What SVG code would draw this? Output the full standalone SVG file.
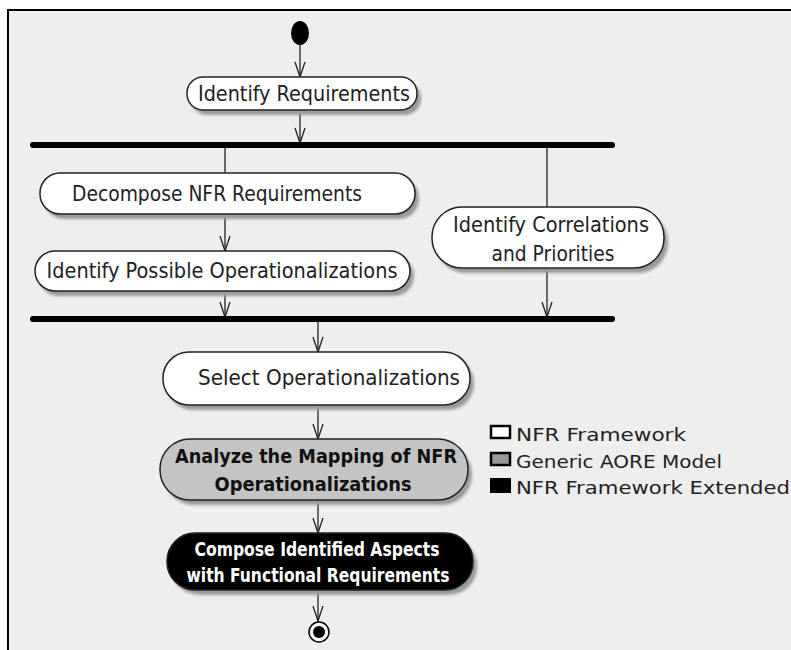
<svg xmlns="http://www.w3.org/2000/svg" width="791" height="650" viewBox="0 0 791 650">
<defs>
<style>
.node{stroke:#222;stroke-width:1.5}
.w{fill:#fff}
.g{fill:#c4c4c4}
.b{fill:#000}
.sh{fill:#9a9a9a;filter:url(#blur)}
.t{font-family:"DejaVu Sans Condensed","DejaVu Sans",sans-serif;font-size:21px;fill:#222;text-anchor:middle}
.tb{font-family:"DejaVu Sans Condensed","DejaVu Sans",sans-serif;font-size:19px;font-weight:bold;text-anchor:middle}
.lg{font-family:"DejaVu Sans",sans-serif;font-size:18px;fill:#222}
.c{stroke:#222;stroke-width:1.3;fill:none}
.bar{fill:#000}
</style>
<filter id="blur" x="-10%" y="-30%" width="120%" height="160%"><feGaussianBlur stdDeviation="1.5"/></filter>
<marker id="v" markerWidth="18" markerHeight="14" refX="16" refY="7" orient="auto" markerUnits="userSpaceOnUse" viewBox="0 0 18 14">
<path d="M1 2 L16 7 L1 12" fill="none" stroke="#222" stroke-width="1.3"/>
</marker>
</defs>
<rect x="0" y="0" width="791" height="650" fill="#fff"/>
<rect x="8" y="10" width="790" height="650" fill="#eeeeee" stroke="#000" stroke-width="2"/>

<g id="connectors">
<line class="c" x1="300" y1="45" x2="300" y2="77" marker-end="url(#v)"/>
<line class="c" x1="300" y1="110" x2="300" y2="143" marker-end="url(#v)"/>
<line class="c" x1="225" y1="148" x2="225" y2="173"/>
<line class="c" x1="547" y1="148" x2="547" y2="207"/>
<line class="c" x1="225" y1="214" x2="225" y2="251" marker-end="url(#v)"/>
<line class="c" x1="225" y1="291" x2="225" y2="317" marker-end="url(#v)"/>
<line class="c" x1="547" y1="268" x2="547" y2="317" marker-end="url(#v)"/>
<line class="c" x1="318" y1="322" x2="318" y2="352" marker-end="url(#v)"/>
<line class="c" x1="318" y1="405" x2="318" y2="439" marker-end="url(#v)"/>
<line class="c" x1="318" y1="500" x2="318" y2="533" marker-end="url(#v)"/>
<line class="c" x1="318" y1="590" x2="318" y2="621" marker-end="url(#v)"/>
</g>

<g id="start"><ellipse cx="300" cy="33" rx="9" ry="12" fill="#000"/></g>

<g id="identify-requirements">
<rect class="sh" x="191" y="82" width="230" height="33" rx="16"/>
<rect class="node w" x="187" y="77" width="230" height="33" rx="16"/>
<text class="t" x="304" y="101" textLength="212" lengthAdjust="spacingAndGlyphs">Identify Requirements</text>
</g>

<g id="fork"><rect class="bar" x="30" y="142" width="585" height="6" rx="3"/></g>

<g id="decompose">
<rect class="sh" x="44" y="178" width="375" height="41" rx="20"/>
<rect class="node w" x="40" y="173" width="375" height="41" rx="20"/>
<text class="t" x="217" y="201" textLength="290" lengthAdjust="spacingAndGlyphs">Decompose NFR Requirements</text>
</g>

<g id="identify-possible">
<rect class="sh" x="39" y="256" width="375" height="40" rx="20"/>
<rect class="node w" x="35" y="251" width="375" height="40" rx="20"/>
<text class="t" x="222" y="278" textLength="351" lengthAdjust="spacingAndGlyphs">Identify Possible Operationalizations</text>
</g>

<g id="correlations">
<rect class="sh" x="436" y="212" width="232" height="61" rx="30"/>
<rect class="node w" x="432" y="207" width="232" height="61" rx="30"/>
<text class="t" x="551" y="232" textLength="196" lengthAdjust="spacingAndGlyphs">Identify Correlations</text>
<text class="t" x="553" y="261" textLength="123" lengthAdjust="spacingAndGlyphs">and Priorities</text>
</g>

<g id="join"><rect class="bar" x="30" y="316" width="585" height="6" rx="3"/></g>

<g id="select">
<rect class="sh" x="167" y="357" width="307" height="53" rx="26"/>
<rect class="node w" x="163" y="352" width="307" height="53" rx="26"/>
<text class="t" x="329" y="385" textLength="262" lengthAdjust="spacingAndGlyphs">Select Operationalizations</text>
</g>

<g id="analyze">
<rect class="sh" x="164" y="444" width="308" height="61" rx="30"/>
<rect class="node g" x="160" y="439" width="308" height="61" rx="30"/>
<text class="tb" x="316" y="463" fill="#111" textLength="282" lengthAdjust="spacingAndGlyphs">Analyze the Mapping of NFR</text>
<text class="tb" x="313" y="491" fill="#111" textLength="197" lengthAdjust="spacingAndGlyphs">Operationalizations</text>
</g>

<g id="compose">
<rect class="sh" x="171" y="538" width="306" height="57" rx="28"/>
<rect class="node b" x="167" y="533" width="306" height="57" rx="28"/>
<text class="tb" x="317" y="556" fill="#fff" textLength="245" lengthAdjust="spacingAndGlyphs">Compose Identified Aspects</text>
<text class="tb" x="318" y="582" fill="#fff" textLength="263" lengthAdjust="spacingAndGlyphs">with Functional Requirements</text>
</g>

<g id="end">
<circle cx="319" cy="632" r="10" fill="#fff" stroke="#000" stroke-width="1.5"/>
<circle cx="319" cy="632" r="6" fill="#000"/>
</g>

<g id="legend">
<rect x="491" y="426" width="19" height="12" fill="#fff" stroke="#000" stroke-width="2.5"/>
<text class="lg" x="516" y="441" textLength="170" lengthAdjust="spacingAndGlyphs">NFR Framework</text>
<rect x="491" y="453" width="19" height="12" fill="#999" stroke="#000" stroke-width="2.5"/>
<text class="lg" x="516" y="468" textLength="206" lengthAdjust="spacingAndGlyphs">Generic AORE Model</text>
<rect x="490" y="478" width="21" height="15" fill="#000"/>
<text class="lg" x="516" y="494" textLength="274" lengthAdjust="spacingAndGlyphs">NFR Framework Extended</text>
</g>
</svg>
